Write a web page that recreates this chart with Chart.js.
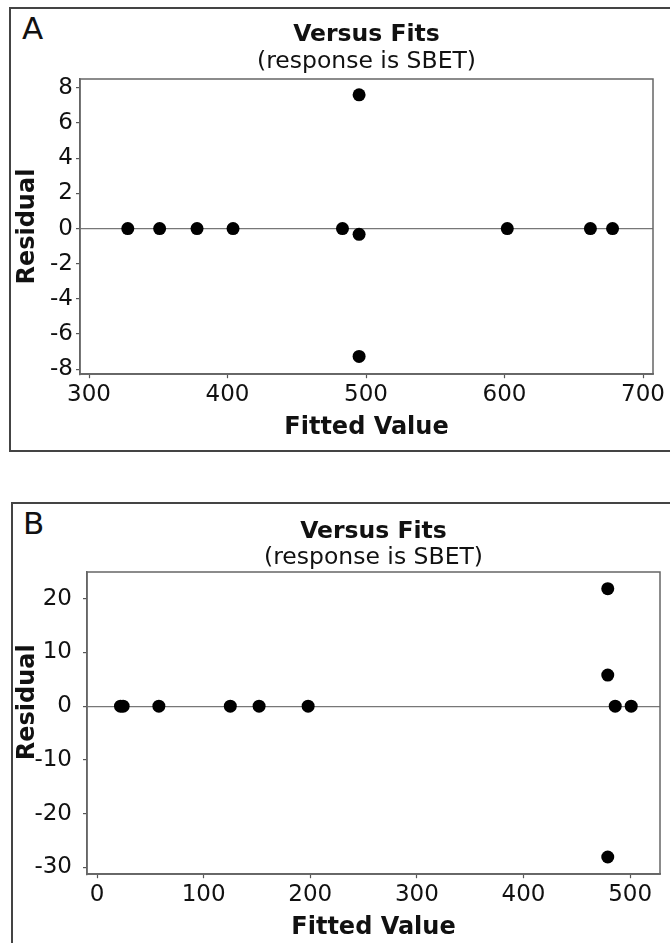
<!DOCTYPE html>
<html>
<head>
<meta charset="utf-8">
<script src="https://cdn.jsdelivr.net/npm/chart.js@4.4.1/dist/chart.umd.min.js"></script>
<style>
  body { margin: 0; background: #fff; width: 670px; height: 943px; overflow: hidden; position: relative; }
  .panel { position: absolute; border: 2px solid #444; }
  .tag { position: absolute; font-family: 'DejaVu Sans'; font-size: 31px; line-height: 1; color: #111; }
  canvas { position: absolute; left: 0; }
</style>
</head>
<body>
<div class="panel" style="left:9px; top:7px; width:700px; height:441px;"></div>
<div class="panel" style="left:11px; top:502px; width:700px; height:500px;"></div>
<div class="tag" style="left:22px; top:13px;">A</div>
<div class="tag" style="left:23px; top:508px;">B</div>
<canvas id="chartA" width="670" height="442" style="top:0;"></canvas>
<canvas id="chartB" width="670" height="446" style="top:496px;"></canvas>
<script>
// panel A
const fitsA = [328, 351, 378, 404, 483, 495, 495, 495, 602, 662, 678];
const residA = [0, 0, 0, 0, 0, 7.6, -0.33, -7.27, 0, 0, 0];
const xTicksA = [300, 400, 500, 600, 700];
const yTicksA = [-8, -6, -4, -2, 0, 2, 4, 6, 8];

// panel B
const fitsB = [22, 24.5, 58, 125, 152, 198, 479, 479, 479, 486, 501];
const residB = [0, 0, 0, 0, 0, 0, 21.9, 5.8, -28.1, 0, 0];
const xTicksB = [0, 100, 200, 300, 400, 500];
const yTicksB = [-30, -20, -10, 0, 10, 20];

const FONT = 'DejaVu Sans';
const INK = '#111';
Chart.defaults.font.family = FONT;
Chart.defaults.color = INK;

// plot frame round the chart area
const framePlugin = {
  id: 'frame',
  beforeDatasetsDraw(chart) {
    const a = chart.chartArea, ctx = chart.ctx;
    ctx.save();
    ctx.strokeStyle = '#666';
    ctx.lineWidth = 1.5;
    ctx.strokeRect(a.left, a.top, a.right - a.left, a.bottom - a.top);
    ctx.restore();
  }
};

function setTicks(list) {
  return scale => { scale.ticks = list.map(v => ({ value: v })); };
}

function makeChart(id, xs, ys, xTicks, yTicks, xr, yr, o) {
  const pts = xs.map((x, i) => ({ x: x, y: ys[i] }));
  return new Chart(document.getElementById(id), {
    type: 'scatter',
    data: {
      datasets: [{
        data: pts,
        backgroundColor: '#000',
        borderWidth: 0,
        pointRadius: 6.5,
        pointHoverRadius: 6.5
      }]
    },
    options: {
      responsive: false,
      animation: false,
      events: [],
      layout: { padding: { top: o.top, left: 13, right: o.right, bottom: 0 } },
      plugins: {
        legend: { display: false },
        tooltip: { enabled: false },
        title: {
          display: true, text: 'Versus Fits', fullSize: false, color: INK,
          font: { size: 23.5, weight: 'bold', lineHeight: 1.1 },
          padding: { top: 0, bottom: 0 }
        },
        subtitle: {
          display: true, text: '(response is SBET)', fullSize: false, color: INK,
          font: { size: 23.5, weight: 'normal', lineHeight: 1.1 },
          padding: { top: o.subTop, bottom: o.subBottom }
        }
      },
      scales: {
        x: {
          type: 'linear', min: xr[0], max: xr[1],
          afterBuildTicks: setTicks(xTicks),
          ticks: { padding: 3, color: INK, font: { size: 23 } },
          grid: { drawOnChartArea: false, tickLength: 4, tickColor: '#555', tickWidth: 1.2 },
          border: { color: '#666', width: 1.5 },
          title: {
            display: true, text: 'Fitted Value', color: INK,
            font: { size: 24, weight: 'bold', lineHeight: 1.2 },
            padding: { top: 1.4, bottom: 0 }
          }
        },
        y: {
          type: 'linear', min: yr[0], max: yr[1],
          afterBuildTicks: setTicks(yTicks),
          afterFit: s => { s.width = o.yWidth; },
          ticks: { padding: o.yPad, color: INK, font: { size: 23 } },
          grid: {
            color: c => (c.tick && c.tick.value === 0) ? '#777' : 'rgba(0,0,0,0)',
            lineWidth: 1.2, tickLength: 4, tickColor: '#555', tickWidth: 1.2
          },
          border: { color: '#666', width: 1.5 },
          title: {
            display: true, text: o.yTitle, color: INK,
            font: { size: 24, weight: 'bold', lineHeight: 1.2 },
            padding: { top: 0, bottom: 0 }
          }
        }
      }
    },
    plugins: [framePlugin]
  });
}

makeChart('chartA', fitsA, residA, xTicksA, yTicksA, [293.5, 707.2], [-8.28, 8.5],
  { top: 22.1, right: 17, subTop: 1.15, subBottom: 4.05, yWidth: 67, yPad: 3, yTitle: 'Residual' });
makeChart('chartB', fitsB, residB, xTicksB, yTicksB, [-9.4, 528], [-31.3, 25],
  { top: 23.1, right: 10, subTop: 0, subBottom: 1.2, yWidth: 74, yPad: 11, yTitle: '     Residual' });
</script>
</body>
</html>
